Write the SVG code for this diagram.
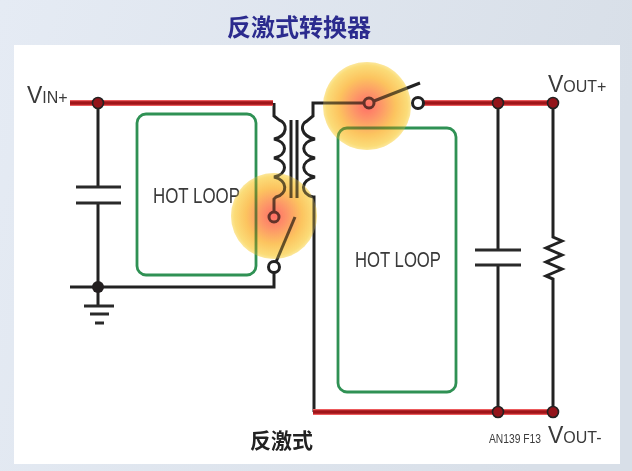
<svg xmlns="http://www.w3.org/2000/svg" width="632" height="471" viewBox="0 0 632 471">
<style>
.w{fill:none;stroke:#222;stroke-width:3;stroke-linejoin:miter}
.plate{fill:none;stroke:#2a2a2a;stroke-width:3.2}
.r1{fill:none;stroke:#ec5a5c;stroke-width:6}
.r2{fill:none;stroke:#a01519;stroke-width:3.4}
.g{fill:none;stroke:#2f9154;stroke-width:2.8}
.dot{fill:#231f20;stroke:none}
.rdot{fill:#93141a;stroke:#222;stroke-width:1.6}
.open{fill:#fff;stroke:#222;stroke-width:3}
.t{font-family:"Liberation Sans",Arial,sans-serif;fill:#3a3a3a}
.cjk{font-family:"Noto Sans CJK SC",sans-serif;font-weight:700}
.mul{mix-blend-mode:multiply}
</style>
<defs>
<linearGradient id="bg" x1="0" y1="0" x2="1" y2="0.2"><stop offset="0" stop-color="#e5ebf4"/><stop offset="1" stop-color="#d8dfe8"/></linearGradient>
<radialGradient id="halo"><stop offset="0" stop-color="#ff6f66"/><stop offset="0.3" stop-color="#fd9468"/><stop offset="0.65" stop-color="#fcc45f"/><stop offset="0.92" stop-color="#fbdc78"/><stop offset="1" stop-color="#fce79a"/></radialGradient>
</defs>
<rect width="632" height="471" fill="url(#bg)"/>
<rect x="14" y="45" width="606" height="419" fill="#fff"/>
<text class="cjk" x="227" y="36" font-size="24" fill="#2b2b8e">反激式转换器</text>
<g id="loop-primary"><rect class="g" x="137" y="114" width="119" height="161" rx="9"/><text class="t" x="153" y="203" font-size="22" textLength="87" lengthAdjust="spacingAndGlyphs">HOT LOOP</text></g>
<g id="loop-secondary"><rect class="g" x="338" y="128" width="118" height="264" rx="9"/><text class="t" x="355" y="267" font-size="22" textLength="86" lengthAdjust="spacingAndGlyphs">HOT LOOP</text></g>
<g id="connectors">
<path class="w" d="M98 103V187M98 203V306"/>
<path class="w" d="M70 287H274V272"/>
<path class="w" d="M274 103V116L279 120C288 123 288 136 274 139C288 142 288 155 274 158C288 161 288 174 274 177C288 180 288 194 276 197L274 199V212"/>
<path class="w" d="M369 103H313V116L307 121C300 124 300 136 315 139C300 142 300 155 315 158C300 161 300 174 315 177C300 180 300 194 313 197H314V412"/>
<path class="w" d="M498 103V250M498 265V412"/>
<path class="w" d="M553 103V237L562 241L546 248L562 255L546 262L562 269L546 276L553 279V412"/>
<path class="w" d="M374 101L420 83"/>
<path class="w" d="M276 262L295 217"/>
<path class="r1" d="M70 103H273M424 103H553M313 412H553"/>
<path class="r2" d="M70 103H273M424 103H553M313 412H553"/>
</g>
<g id="cap-in"><path class="plate" d="M76 187H121M76 203H121"/></g>
<g id="cap-out"><path class="plate" d="M475 250H521M475 265H521"/></g>
<g id="ground"><path class="plate" d="M84 306H114M90 314H109M95 323H104"/></g>
<g id="transformer-core"><path class="w" d="M291 120V198M297 120V198"/></g>
<g id="nodes">
<circle class="rdot" cx="98" cy="103" r="5.5"/>
<circle class="dot" cx="98" cy="287" r="6"/>
<circle class="rdot" cx="498" cy="103" r="5.5"/>
<circle class="rdot" cx="553" cy="103" r="5.5"/>
<circle class="rdot" cx="498" cy="412" r="5.5"/>
<circle class="rdot" cx="553" cy="412" r="5.5"/>
<circle class="open" cx="418" cy="103" r="5.5"/>
<circle class="open" cx="274" cy="267" r="5.5"/>
<circle class="open" cx="369" cy="103" r="5"/>
<circle class="open" cx="274" cy="217" r="5"/>
</g>
<g id="halo-secondary"><circle class="mul" cx="367" cy="106" r="44" fill="url(#halo)"/><circle cx="367" cy="106" r="44" fill="url(#halo)" opacity="0.3"/></g>
<g id="halo-primary"><circle class="mul" cx="274" cy="216" r="43" fill="url(#halo)"/><circle cx="274" cy="216" r="43" fill="url(#halo)" opacity="0.3"/></g>
<g id="labels">
<text class="t" x="27" y="103" font-size="23">V<tspan font-size="16">IN+</tspan></text>
<text class="t" x="548" y="92" font-size="23">V<tspan font-size="16">OUT+</tspan></text>
<text class="t" x="548" y="443" font-size="23">V<tspan font-size="16">OUT-</tspan></text>
<text class="t" x="489" y="443" font-size="12" textLength="52" lengthAdjust="spacingAndGlyphs" fill="#555">AN139 F13</text>
<text class="cjk" x="250" y="448" font-size="21" fill="#222">反激式</text>
</g>
</svg>
